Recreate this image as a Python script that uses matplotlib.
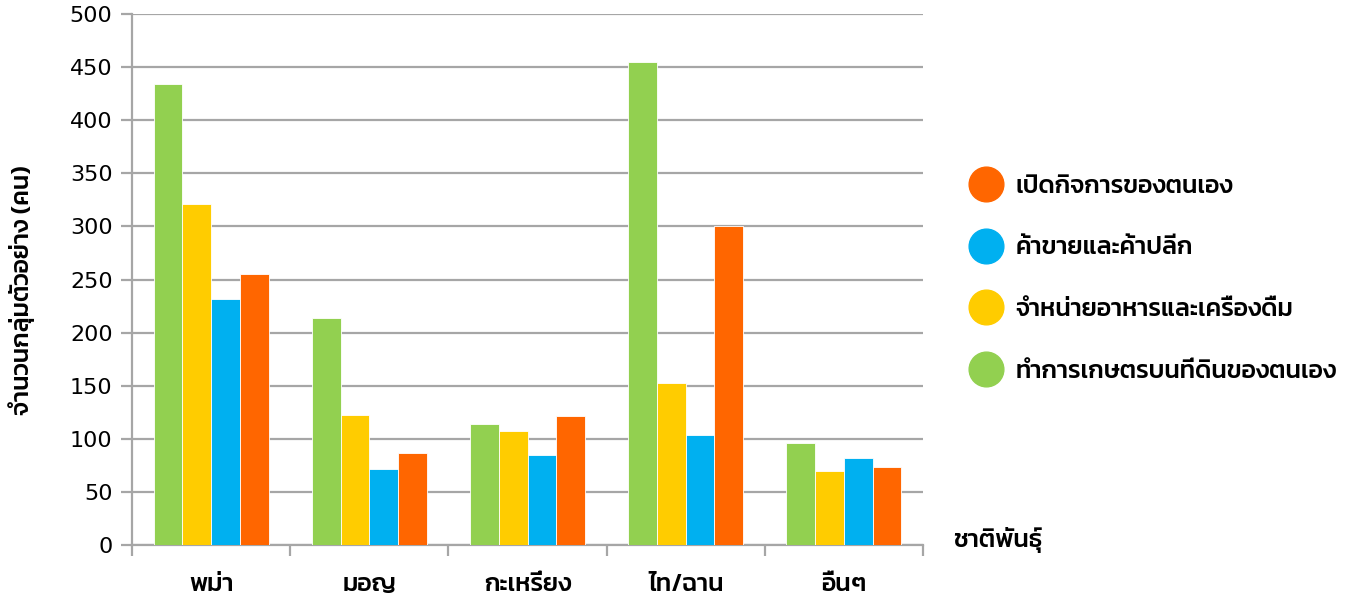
import matplotlib
matplotlib.use('Agg')
import matplotlib.pyplot as plt
from matplotlib.lines import Line2D
import numpy as np

# ข้อมูล
groups = ['พม่า', 'มอญ', 'กะเหรี่ยง', 'ไท/ฉาน', 'อื่นๆ']
series = ['ทำการเกษตรบนที่ดินของตนเอง', 'จำหน่ายอาหารและเครื่องดื่ม',
          'ค้าขายและค้าปลีก', 'เปิดกิจการของตนเอง']
farm = [434, 214, 114, 455, 96]
food = [321, 122, 107, 153, 70]
trade = [232, 72, 85, 104, 82]
own_biz = [255, 87, 121, 300, 73]
colors = ['#92D050', '#FFCC00', '#00B0F0', '#FF6600']

thai = ['Kanit', 'DejaVu Sans']
tw = 'medium'
grid_c = '#A6A6A6'

fig = plt.figure(figsize=(13.46, 5.97), dpi=100)
ax = fig.add_axes([132 / 1346, 1 - 545 / 597, (923 - 132) / 1346, (545 - 14) / 597])

x = np.arange(len(groups))
w = 0.182
for i, vals in enumerate([farm, food, trade, own_biz]):
    ax.bar(x + (i - 1.5) * w, vals, w, color=colors[i], edgecolor='white', linewidth=0.6, zorder=3)

ax.set_xlim(-0.5, len(groups) - 0.5)
ax.set_ylim(0, 500)
ax.set_yticks(np.arange(0, 501, 50))
ax.yaxis.grid(True, color=grid_c, linewidth=1.6, zorder=0)
ax.set_axisbelow(True)
for s in ['top', 'right']:
    ax.spines[s].set_visible(False)
for s in ['left', 'bottom']:
    ax.spines[s].set_color(grid_c)
    ax.spines[s].set_linewidth(1.6)

# ขีดแบ่งกลุ่ม (major) และชื่อกลุ่ม (minor)
ax.set_xticks(np.arange(-0.5, len(groups)), minor=False)
ax.set_xticklabels([])
ax.set_xticks(x, minor=True)
ax.set_xticklabels(groups, minor=True, fontsize=18, family=thai, weight=tw)
ax.tick_params(axis='x', which='major', length=8, width=1.6, color=grid_c, direction='out')
ax.tick_params(axis='x', which='minor', length=0, pad=21)
ax.tick_params(axis='y', length=8, width=1.6, color=grid_c, direction='out', labelsize=16, pad=6)

ax.set_ylabel('จำนวนกลุ่มตัวอย่าง (คน)', fontsize=18, family=thai, weight=tw)
ax.yaxis.set_label_coords(-0.122, 0.48)
fig.text(953 / 1346, 1 - 540 / 597, 'ชาติพันธุ์', fontsize=18, family=thai, weight=tw, va='center', ha='left')

handles = [Line2D([], [], marker='o', linestyle='none', markersize=25,
                  markerfacecolor=colors[i], markeredgecolor=colors[i]) for i in range(4)]
fig.legend(handles[::-1], series[::-1], loc='center left', bbox_to_anchor=(938 / 1346, 1 - 279 / 597),
           frameon=False, prop={'family': thai, 'size': 18, 'weight': tw}, labelspacing=1.57,
           handletextpad=0.2, handlelength=2)

fig.savefig('out.png')
